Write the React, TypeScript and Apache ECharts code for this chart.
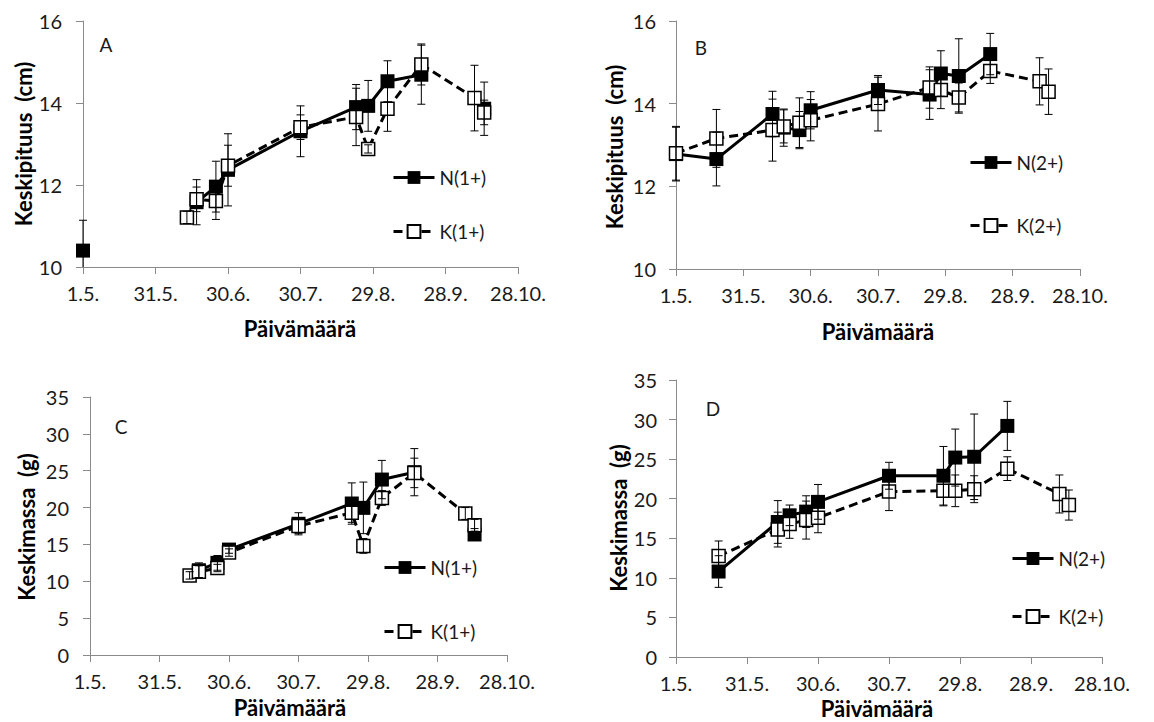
import React, { useEffect, useRef } from "react";
import * as echarts from "echarts";

// x axis: days since 1.5., ticks every 30 days
const xTickLabels = ["1.5.", "31.5.", "30.6.", "30.7.", "29.8.", "28.9.", "28.10."];

// Panel A – Keskipituus (cm), 1+
const datesA = [0, 43, 47, 55, 60, 90, 113, 118, 126, 140, 162, 166];
const nA = [10.4, null, 11.58, 11.96, 12.37, 13.31, 13.9, 13.93, 14.53, 14.69, null, 13.86];
const nAErr = [0.74, null, 0.55, 0.62, 0.88, 0.62, 0.55, 0.62, 0.5, 0.72, null, 0.65];
const kA = [null, 11.21, 11.65, 11.61, 12.47, 13.41, 13.66, 12.88, 13.86, 14.94, 14.12, 13.77];
const kAErr = [null, 0.15, 0.3, 0.45, 0.5, 0.3, 0.7, 0.1, 0.55, 0.5, 0.8, 0.3];

// Panel B – Keskipituus (cm), 2+
const datesB = [0, 18, 43, 48, 55, 60, 90, 113, 118, 126, 140, 162, 166];
const nB = [12.78, 12.66, 13.75, 13.42, 13.36, 13.84, 14.33, 14.22, 14.73, 14.67, 15.2, null, null];
const nBErr = [0.65, 0.65, 0.55, 0.45, 0.45, 0.45, 0.35, 0.6, 0.55, 0.9, 0.5, null, null];
const kB = [12.8, 13.16, 13.36, 13.45, 13.54, 13.6, 13.99, 14.39, 14.33, 14.15, 14.79, 14.54, 14.29];
const kBErr = [0.65, 0.7, 0.75, 0.4, 0.6, 0.5, 0.65, 0.5, 0.45, 0.35, 0.3, 0.57, 0.55];

// Panel C – Keskimassa (g), 1+
const datesC = [43, 47, 55, 60, 90, 113, 118, 126, 140, 162, 166];
const nC = [null, 11.5, 12.5, 14.3, 17.8, 20.55, 19.96, 23.8, 24.8, null, 16.35];
const nCErr = [null, 1.0, 1.0, 0.5, 1.5, 2.8, 3.5, 2.6, 3.2, null, 0.8];
const kC = [10.8, 11.3, 11.8, 13.9, 17.5, 19.3, 14.8, 21.3, 24.7, 19.2, 17.6];
const kCErr = [0.5, 0.8, 0.5, 0.5, 1.0, 1.3, 1.0, 1.0, 2.0, 0.8, 0.8];

// Panel D – Keskimassa (g), 2+
const datesD = [18, 43, 48, 55, 60, 90, 113, 118, 126, 140, 162, 166];
const nD = [10.8, 17.06, 17.9, 18.37, 19.6, 22.9, 22.9, 25.2, 25.3, 29.2, null, null];
const nDErr = [2.0, 2.7, 1.3, 2.0, 2.2, 1.7, 3.7, 3.6, 5.4, 3.1, null, null];
const kD = [12.76, 16.1, 16.8, 17.3, 17.6, 20.9, 21.0, 21.0, 21.2, 23.8, 20.6, 19.2];
const kDErr = [1.9, 2.2, 1.8, 2.4, 1.9, 2.4, 1.9, 2.0, 1.7, 1.5, 2.4, 1.9];

const FONT = "Lato, 'Open Sans', sans-serif";
const AXIS_GRAY = "#8a8a8a";
const TEXT = "#1a1a1a";

type Panel = {
  dates: number[];
  n: (number | null)[];
  nErr: (number | null)[];
  k: (number | null)[];
  kErr: (number | null)[];
  nName: string;
  kName: string;
  ymin: number;
  ymax: number;
  yInterval: number;
  grid: { left: number; top: number; width: number; height: number };
  yMargin: number;
  legendLeft: number;
  legendN: number;
  legendK: number;
};

const panels: Panel[] = [
  {
    dates: datesA, n: nA, nErr: nAErr, k: kA, kErr: kAErr, nName: "N(1+)", kName: "K(1+)",
    ymin: 10, ymax: 16, yInterval: 2,
    grid: { left: 83, top: 21, width: 435, height: 246 }, yMargin: 21,
    legendLeft: 392, legendN: 178, legendK: 232,
  },
  {
    dates: datesB, n: nB, nErr: nBErr, k: kB, kErr: kBErr, nName: "N(2+)", kName: "K(2+)",
    ymin: 10, ymax: 16, yInterval: 2,
    grid: { left: 676, top: 21, width: 404, height: 248 }, yMargin: 20,
    legendLeft: 969, legendN: 163, legendK: 226,
  },
  {
    dates: datesC, n: nC, nErr: nCErr, k: kC, kErr: kCErr, nName: "N(1+)", kName: "K(1+)",
    ymin: 0, ymax: 35, yInterval: 5,
    grid: { left: 90, top: 397, width: 417, height: 258 }, yMargin: 21,
    legendLeft: 383, legendN: 568, legendK: 632,
  },
  {
    dates: datesD, n: nD, nErr: nDErr, k: kD, kErr: kDErr, nName: "N(2+)", kName: "K(2+)",
    ymin: 0, ymax: 35, yInterval: 5,
    grid: { left: 676, top: 380, width: 426, height: 277 }, yMargin: 19,
    legendLeft: 1011, legendN: 559, legendK: 617,
  },
];

function errRender(ymin: number, ymax: number) {
  return (params: any, api: any) => {
    const x = api.value(0);
    const y = api.value(1);
    const e = api.value(2);
    const hi = y + e;
    const lo = y - e;
    const pTop = api.coord([x, Math.min(hi, ymax)]);
    const pBot = api.coord([x, Math.max(lo, ymin)]);
    const style = { stroke: "#000", lineWidth: 1, fill: null };
    const children: any[] = [
      { type: "line", shape: { x1: pTop[0], y1: pTop[1], x2: pBot[0], y2: pBot[1] }, style },
    ];
    if (hi <= ymax)
      children.push({ type: "line", shape: { x1: pTop[0] - 4, y1: pTop[1], x2: pTop[0] + 4, y2: pTop[1] }, style });
    if (lo >= ymin)
      children.push({ type: "line", shape: { x1: pBot[0] - 4, y1: pBot[1], x2: pBot[0] + 4, y2: pBot[1] }, style });
    return { type: "group", children };
  };
}

function buildOption() {
  const grid: any[] = [];
  const xAxis: any[] = [];
  const yAxis: any[] = [];
  const series: any[] = [];
  const legend: any[] = [];

  panels.forEach((p, i) => {
    grid.push({ ...p.grid, containLabel: false });
    xAxis.push({
      type: "value",
      gridIndex: i,
      min: 0,
      max: 180,
      interval: 30,
      axisLine: { show: true, onZero: false, lineStyle: { color: AXIS_GRAY, width: 1 } },
      axisTick: { show: true, length: 7, inside: false, lineStyle: { color: AXIS_GRAY, width: 1 } },
      splitLine: { show: false },
      axisLabel: {
        show: true,
        margin: 16,
        fontFamily: FONT,
        fontSize: 20,
        color: TEXT,
        showMinLabel: true,
        showMaxLabel: true,
        formatter: (v: number) => xTickLabels[Math.round(v / 30)] ?? "",
      },
    });
    yAxis.push({
      type: "value",
      gridIndex: i,
      min: p.ymin,
      max: p.ymax,
      interval: p.yInterval,
      axisLine: { show: true, onZero: false, lineStyle: { color: AXIS_GRAY, width: 1 } },
      axisTick: { show: true, length: 7, inside: false, lineStyle: { color: AXIS_GRAY, width: 1 } },
      splitLine: { show: false },
      axisLabel: { show: true, margin: p.yMargin, fontFamily: FONT, fontSize: 20, color: TEXT },
    });

    const nData = p.dates.map((d, j) => [d, p.n[j] == null ? "-" : p.n[j]]);
    const kData = p.dates.map((d, j) => [d, p.k[j] == null ? "-" : p.k[j]]);

    series.push({
      type: "line",
      name: p.nName,
      xAxisIndex: i,
      yAxisIndex: i,
      data: nData,
      connectNulls: false,
      symbol: "rect",
      symbolSize: 14,
      itemStyle: { color: "#000" },
      lineStyle: { color: "#000", width: 3 },
      z: 2,
      silent: true,
    });
    series.push({
      type: "line",
      name: p.kName,
      xAxisIndex: i,
      yAxisIndex: i,
      data: kData,
      connectNulls: false,
      symbol: "rect",
      symbolSize: 13,
      itemStyle: { color: "#fff", borderColor: "#000", borderWidth: 1.5 },
      lineStyle: { color: "#000", width: 3, type: [9, 5] },
      z: 3,
      silent: true,
    });

    const nErrData = p.dates
      .map((d, j) => (p.n[j] == null || p.nErr[j] == null ? null : [d, p.n[j], p.nErr[j]]))
      .filter((v) => v !== null);
    const kErrData = p.dates
      .map((d, j) => (p.k[j] == null || p.kErr[j] == null ? null : [d, p.k[j], p.kErr[j]]))
      .filter((v) => v !== null);

    series.push({
      type: "custom",
      name: "errN" + i,
      xAxisIndex: i,
      yAxisIndex: i,
      data: nErrData,
      encode: { x: 0, y: 1 },
      renderItem: errRender(p.ymin, p.ymax),
      z: 5,
      silent: true,
    });
    series.push({
      type: "custom",
      name: "errK" + i,
      xAxisIndex: i,
      yAxisIndex: i,
      data: kErrData,
      encode: { x: 0, y: 1 },
      renderItem: errRender(p.ymin, p.ymax),
      z: 5,
      silent: true,
    });

    const legendCommon = {
      orient: "vertical",
      left: p.legendLeft,
      itemWidth: 41,
      itemHeight: 16,
      padding: 0,
      selectedMode: false,
      lineStyle: { width: 3 },
      textStyle: { fontFamily: FONT, fontSize: 19, color: TEXT, padding: [0, 0, 0, 0] },
    };
    legend.push({ ...legendCommon, data: [p.nName], top: p.legendN - 10 });
    legend.push({ ...legendCommon, data: [p.kName], top: p.legendK - 10 });
  });

  const titleFont = `bold 22px ${FONT}`;
  const letterFont = `19px ${FONT}`;
  const center = { textAlign: "center", textVerticalAlign: "middle" };
  const graphic: any[] = [
    { type: "text", x: 106, y: 44, style: { text: "A", font: letterFont, fill: TEXT, ...center } },
    { type: "text", x: 701, y: 47, style: { text: "B", font: letterFont, fill: TEXT, ...center } },
    { type: "text", x: 121, y: 426, style: { text: "C", font: letterFont, fill: TEXT, ...center } },
    { type: "text", x: 713, y: 408, style: { text: "D", font: letterFont, fill: TEXT, ...center } },

    { type: "text", x: 300, y: 328, style: { text: "Päivämäärä", font: titleFont, fill: "#000", ...center } },
    { type: "text", x: 878, y: 331, style: { text: "Päivämäärä", font: titleFont, fill: "#000", ...center } },
    { type: "text", x: 290, y: 707, style: { text: "Päivämäärä", font: titleFont, fill: "#000", ...center } },
    { type: "text", x: 877, y: 708, style: { text: "Päivämäärä", font: titleFont, fill: "#000", ...center } },

    { type: "text", x: 23, y: 144, rotation: Math.PI / 2, style: { text: "Keskipituus  (cm)", font: titleFont, fill: "#000", ...center } },
    { type: "text", x: 614, y: 147, rotation: Math.PI / 2, style: { text: "Keskipituus  (cm)", font: titleFont, fill: "#000", ...center } },
    { type: "text", x: 26, y: 527, rotation: Math.PI / 2, style: { text: "Keskimassa  (g)", font: titleFont, fill: "#000", ...center } },
    { type: "text", x: 618, y: 518, rotation: Math.PI / 2, style: { text: "Keskimassa  (g)", font: titleFont, fill: "#000", ...center } },
  ];

  return {
    animation: false,
    backgroundColor: "#fff",
    grid,
    xAxis,
    yAxis,
    legend,
    series,
    graphic,
  };
}

export default function App() {
  const ref = useRef<HTMLDivElement>(null);
  useEffect(() => {
    if (!ref.current) return;
    const chart = echarts.init(ref.current, undefined, { renderer: "svg" });
    chart.setOption(buildOption() as any);
    return () => chart.dispose();
  }, []);
  return (
    <div
      ref={ref}
      style={{ position: "absolute", left: 0, top: 0, width: 1154, height: 722, background: "#fff" }}
    />
  );
}
